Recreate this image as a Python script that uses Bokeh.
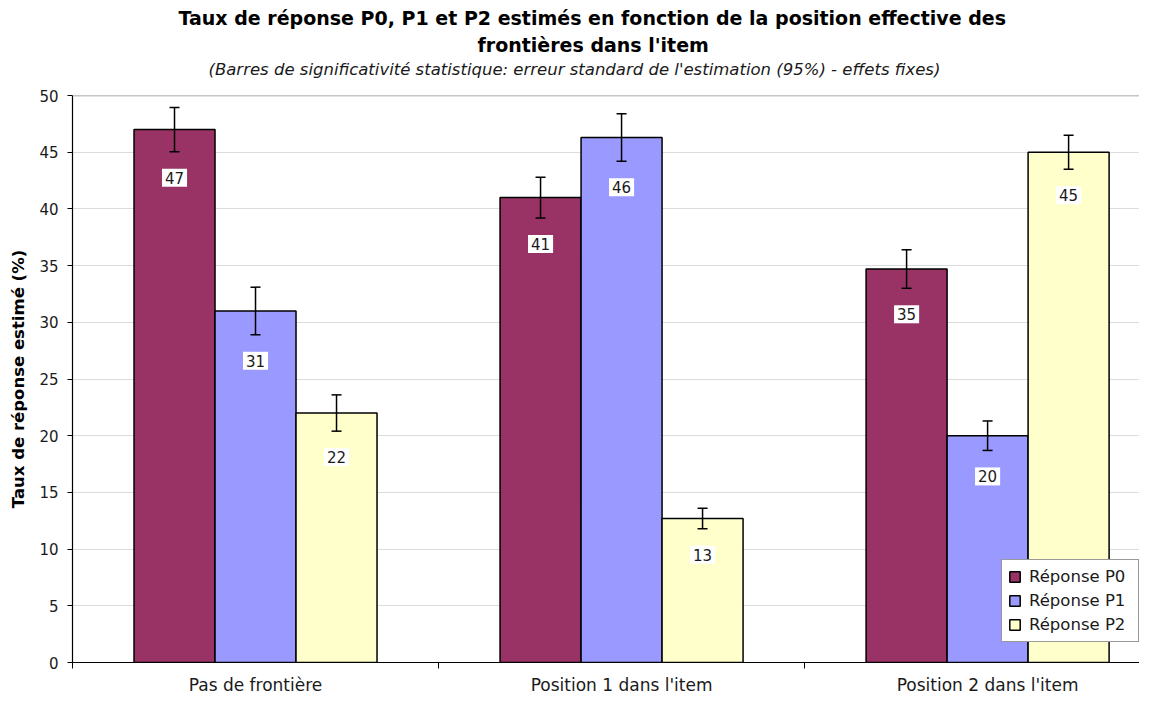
import numpy as np
from bokeh.plotting import figure
from bokeh.models import (ColumnDataSource, Range1d, FixedTicker, SingleIntervalTicker,
                          Whisker, TeeHead, Legend, LegendItem, Title, Span)
from bokeh.core.properties import value
from bokeh.embed import file_html
from bokeh.resources import INLINE

# ---- data ----
categories = ["Pas de frontière", "Position 1 dans l'item", "Position 2 dans l'item"]
series_names = ["Réponse P0", "Réponse P1", "Réponse P2"]
p0_values = [47.0, 41.0, 34.7]
p1_values = [31.0, 46.3, 20.0]
p2_values = [22.0, 12.7, 45.0]
p0_errors = [1.95, 1.8, 1.7]
p1_errors = [2.1, 2.1, 1.3]
p2_errors = [1.6, 0.9, 1.5]
colors = ["#993366", "#9999FF", "#FFFFCC"]

FONT = "DejaVu Sans"
W, H = 1139, 697

p = figure(width=W, height=H, output_backend="svg", toolbar_location=None,
           x_range=Range1d(0, 2.915), y_range=Range1d(0, 50),
           min_border_left=72, min_border_right=0, min_border_bottom=0, min_border_top=95)

xs = np.arange(len(categories)) + 0.5
bw = 0.2213
offsets = [-bw, 0.0, bw]
all_vals = [p0_values, p1_values, p2_values]
all_errs = [p0_errors, p1_errors, p2_errors]

renderers = []
sources = []
for i in range(3):
    v = np.array(all_vals[i])
    e = np.array(all_errs[i])
    src = ColumnDataSource(dict(x=xs + offsets[i], top=v, upper=v + e, lower=v - e,
                                label=[f"{val:.0f}" for val in v]))
    sources.append(src)
    r = p.vbar(x="x", top="top", bottom=0, width=bw, source=src,
               fill_color=colors[i], line_color="black", line_width=1.5)
    renderers.append(r)

for src in sources:
    p.text(x="x", y="lower", text="label", y_offset=26, source=src,
           text_align="center", text_baseline="middle",
           text_font=value(FONT), text_font_size="15px", text_color="#1a1a1a",
           background_fill_color="white", padding=3)

for src in sources:
    p.add_layout(Whisker(source=src, base="x", upper="upper", lower="lower", level="annotation",
                         line_color="black", line_width=1.5,
                         upper_head=TeeHead(size=10, line_width=1.5, line_color="black"),
                         lower_head=TeeHead(size=10, line_width=1.5, line_color="black")))

# top border line
p.add_layout(Span(location=50, dimension="width", line_color="#8c8c8c", line_width=1.5))

# axes
p.outline_line_color = None
p.xgrid.grid_line_color = None
p.ygrid.grid_line_color = "#dcdcdc"
p.ygrid.grid_line_width = 1

p.yaxis.ticker = SingleIntervalTicker(interval=5, num_minor_ticks=0)
p.yaxis.axis_line_color = "black"
p.yaxis.axis_line_width = 1.2
p.yaxis.major_tick_out = 5
p.yaxis.major_tick_in = 0
p.yaxis.major_tick_line_color = "black"
p.yaxis.minor_tick_line_color = None
p.yaxis.major_label_text_font = FONT
p.yaxis.major_label_text_font_size = "15px"
p.yaxis.major_label_text_color = "#1a1a1a"
p.yaxis.major_label_standoff = 9
p.yaxis.axis_label = "Taux de réponse estimé (%)"
p.yaxis.axis_label_text_font = FONT
p.yaxis.axis_label_text_font_size = "16.5px"
p.yaxis.axis_label_text_font_style = "bold"
p.yaxis.axis_label_text_color = "black"
p.yaxis.axis_label_standoff = 8

p.xaxis.ticker = FixedTicker(ticks=list(xs), minor_ticks=list(np.arange(len(categories) + 1)))
p.xaxis.major_label_overrides = {float(x): c for x, c in zip(xs, categories)}
p.xaxis.major_tick_line_color = None
p.xaxis.major_tick_out = 0
p.xaxis.minor_tick_line_color = "black"
p.xaxis.minor_tick_out = 6
p.xaxis.minor_tick_in = 0
p.xaxis.axis_line_color = "black"
p.xaxis.axis_line_width = 1.2
p.xaxis.major_label_text_font = FONT
p.xaxis.major_label_text_font_size = "17px"
p.xaxis.major_label_text_color = "#1a1a1a"
p.xaxis.major_label_standoff = 6

# legend
legend = Legend(items=[LegendItem(label=s, renderers=[r]) for s, r in zip(series_names, renderers)],
                location=(929, 20), orientation="vertical",
                label_text_font=FONT, label_text_font_size="16.5px", label_text_color="#1a1a1a",
                glyph_width=13, glyph_height=13, label_height=21, label_width=103,
                spacing=3, padding=6, label_standoff=8,
                border_line_color="#333333", border_line_width=1,
                background_fill_color="white", background_fill_alpha=1.0, margin=0)
p.add_layout(legend)

# titles (first added is closest to the plot)
p.title = None
p.add_layout(Title(text=" ", text_font=FONT, text_font_size="12px", standoff=1), "above")
p.add_layout(Title(text="(Barres de significativité statistique: erreur standard de l'estimation (95%) - effets fixes)",
                   text_font=FONT, text_font_size="16.5px", text_font_style="italic",
                   text_color="#1a1a1a", align="left", standoff=0, offset=136), "above")
p.add_layout(Title(text="frontières dans l'item", text_font=FONT, text_font_size="19px",
                   text_font_style="bold", text_color="black", align="left", standoff=3,
                   offset=405), "above")
p.add_layout(Title(text="Taux de réponse P0, P1 et P2 estimés en fonction de la position effective des",
                   text_font=FONT, text_font_size="19px", text_font_style="bold",
                   text_color="black", align="left", standoff=3, offset=106), "above")

open("out.html", "w").write(file_html(p, INLINE))
